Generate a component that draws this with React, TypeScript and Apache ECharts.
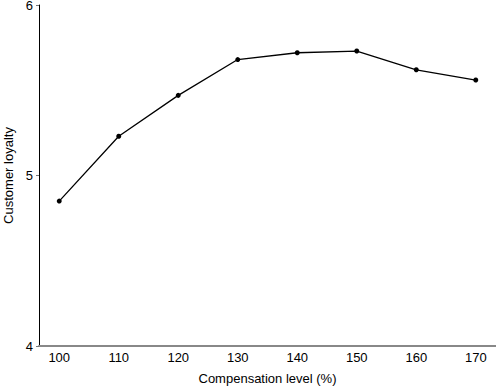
import React, { useEffect, useRef } from "react";
import * as echarts from "echarts";

const compensationLevels = [100, 110, 120, 130, 140, 150, 160, 170];
const loyaltyValues = [4.85, 5.23, 5.47, 5.68, 5.72, 5.73, 5.62, 5.56];
const yTicks = [4, 5, 6];

export default function App() {
  const ref = useRef<HTMLDivElement>(null);
  useEffect(() => {
    if (!ref.current) return;
    const chart = echarts.init(ref.current, null, { renderer: "svg" });
    const font = "'Liberation Sans', Arial, Helvetica, sans-serif";
    chart.setOption({
      animation: false,
      backgroundColor: "#ffffff",
      grid: {
        left: 39,
        right: 0,
        top: 5,
        bottom: 41,
        containLabel: false,
        outerBoundsMode: "none",
      },
      xAxis: {
        type: "value",
        min: 96.6,
        max: 173.4,
        name: "Compensation level (%)",
        nameLocation: "middle",
        nameGap: 26,
        nameTextStyle: { color: "#000", fontSize: 13, fontFamily: font },
        axisLine: { show: true, onZero: false, lineStyle: { color: "#888", width: 2 } },
        axisTick: { show: false },
        splitLine: { show: false },
        axisLabel: {
          customValues: compensationLevels,
          color: "#000",
          fontSize: 13,
          fontFamily: font,
          margin: 5,
        },
      },
      yAxis: {
        type: "value",
        min: yTicks[0],
        max: yTicks[yTicks.length - 1],
        interval: 1,
        name: "Customer loyalty",
        nameLocation: "middle",
        nameGap: 22,
        nameTextStyle: { color: "#000", fontSize: 13, fontFamily: font },
        axisLine: { show: true, lineStyle: { color: "#000", width: 1 } },
        axisTick: { show: true, length: 3, lineStyle: { color: "#777" } },
        splitLine: { show: false },
        axisLabel: { color: "#000", fontSize: 13, fontFamily: font, margin: 6 },
      },
      series: [
        {
          type: "line",
          data: compensationLevels.map((x, i) => [x, loyaltyValues[i]]),
          symbol: "circle",
          symbolSize: 5,
          lineStyle: { color: "#000", width: 1.3 },
          itemStyle: { color: "#000" },
        },
      ],
    });
    return () => chart.dispose();
  }, []);
  return (
    <div
      ref={ref}
      style={{ position: "fixed", left: 0, top: 0, width: 496, height: 387, background: "#fff" }}
    />
  );
}
